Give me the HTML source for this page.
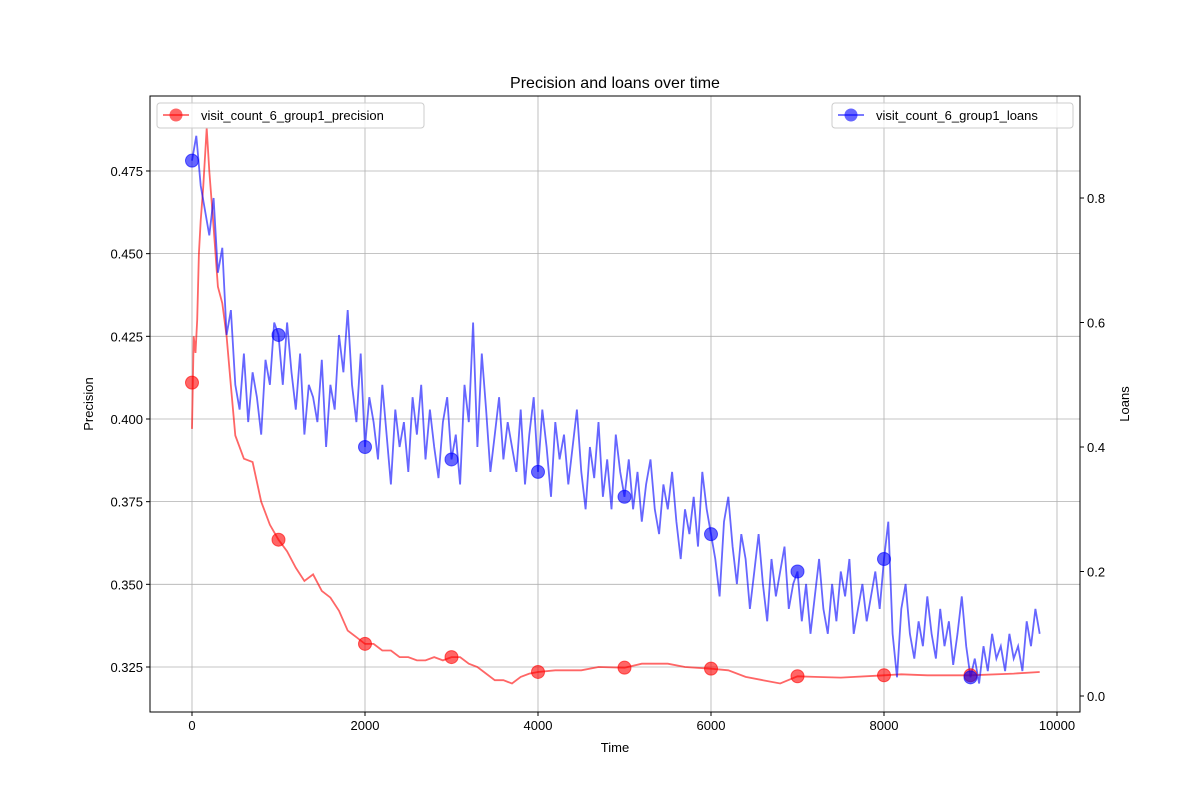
<!DOCTYPE html>
<html><head><meta charset="utf-8"><style>
body{margin:0;background:#fff}
svg text{font-family:"Liberation Sans","DejaVu Sans",sans-serif;font-size:13px;fill:#000}
</style></head><body>
<svg id="chart" width="1200" height="800">
<rect width="1200" height="800" fill="#fff"/>
<g id="grid"></g><g id="marks"></g><g id="axes"></g>
</svg>
<script>
const precTimes=[0,20,40,60,80,100,130,170,200,250,300,350,400,450,500,600,700,800,900,1000,1100,1200,1300,1400,1500,1600,1700,1800,1900,2000,2100,2200,2300,2400,2500,2600,2700,2800,2900,3000,3100,3200,3300,3400,3500,3600,3700,3800,3900,4000,4200,4500,4700,5000,5200,5500,5700,6000,6200,6400,6600,6800,7000,7200,7500,8000,8200,8500,9000,9500,9800];
const precValues=[0.397,0.425,0.42,0.43,0.45,0.46,0.47,0.488,0.475,0.458,0.44,0.435,0.425,0.41,0.395,0.388,0.387,0.375,0.368,0.3635,0.36,0.355,0.351,0.353,0.348,0.346,0.342,0.336,0.334,0.332,0.332,0.330,0.330,0.328,0.328,0.327,0.327,0.328,0.327,0.328,0.328,0.326,0.325,0.323,0.321,0.321,0.320,0.322,0.323,0.3235,0.324,0.324,0.325,0.3248,0.326,0.326,0.325,0.3245,0.324,0.322,0.321,0.320,0.3222,0.322,0.3218,0.3225,0.3228,0.3225,0.3225,0.323,0.3235];
const precMarkerTimes=[0,1000,2000,3000,4000,5000,6000,7000,8000,9000];
const precMarkerValues=[0.411,0.3635,0.332,0.328,0.3235,0.3248,0.3245,0.3222,0.3225,0.3225];
const loansStep=50;
const loans=[0.86,0.90,0.82,0.78,0.74,0.80,0.68,0.72,0.58,0.62,0.50,0.46,0.55,0.44,0.52,0.48,0.42,0.54,0.50,0.60,
0.58,0.50,0.60,0.52,0.46,0.55,0.42,0.50,0.48,0.44,0.54,0.40,0.50,0.46,0.58,0.52,0.62,0.50,0.44,0.55,
0.40,0.48,0.44,0.38,0.50,0.42,0.34,0.46,0.40,0.44,0.36,0.48,0.42,0.50,0.38,0.46,0.40,0.35,0.44,0.48,
0.38,0.42,0.34,0.50,0.44,0.60,0.40,0.55,0.46,0.36,0.42,0.48,0.38,0.44,0.40,0.36,0.46,0.34,0.42,0.48,
0.36,0.46,0.40,0.32,0.44,0.38,0.42,0.34,0.40,0.46,0.36,0.30,0.40,0.35,0.44,0.32,0.38,0.30,0.42,0.36,
0.32,0.38,0.30,0.36,0.28,0.34,0.38,0.30,0.26,0.34,0.30,0.36,0.28,0.22,0.30,0.26,0.32,0.24,0.36,0.30,
0.26,0.22,0.16,0.28,0.32,0.24,0.18,0.26,0.22,0.14,0.20,0.26,0.18,0.12,0.22,0.16,0.20,0.24,0.14,0.18,
0.20,0.12,0.18,0.10,0.16,0.22,0.14,0.10,0.18,0.12,0.20,0.16,0.22,0.10,0.14,0.18,0.12,0.16,0.20,0.14,
0.22,0.28,0.10,0.03,0.14,0.18,0.10,0.06,0.12,0.08,0.16,0.10,0.06,0.14,0.08,0.12,0.05,0.10,0.16,0.08,
0.03,0.06,0.02,0.08,0.04,0.10,0.06,0.08,0.04,0.10,0.06,0.08,0.04,0.12,0.08,0.14,0.10];
const loansMarkerTimes=[0,1000,2000,3000,4000,5000,6000,7000,8000,9000];
const xTicks=[0,2000,4000,6000,8000,10000];
const yTicks=[0.325,0.350,0.375,0.400,0.425,0.450,0.475];
const y2Ticks=[0.0,0.2,0.4,0.6,0.8];

const L=150,R=1080,T=96,B=712;
const x=t=>192+t*0.08650;
const y=v=>667-(v-0.325)*(82.67/0.025);
const y2=v=>696-v*622.5;
const NS='http://www.w3.org/2000/svg';
function mk(tag,attrs,parent,text){const e=document.createElementNS(NS,tag);for(const k in attrs)e.setAttribute(k,attrs[k]);if(text!==undefined)e.textContent=text;parent.appendChild(e);return e;}
const grid=document.getElementById('grid'),marks=document.getElementById('marks'),axes=document.getElementById('axes');
xTicks.forEach(t=>{const g=mk('line',{x1:x(t),x2:x(t),y1:T,y2:B,stroke:'#b0b0b0','stroke-width':0.8},grid);


mk('line',{x1:x(t),x2:x(t),y1:B,y2:B+4,stroke:'#000'},axes);
const tx=mk('text',{x:x(t),y:B+18,'text-anchor':'middle'},axes,String(t));

});
yTicks.forEach(v=>{const g=mk('line',{x1:L,x2:R,y1:y(v),y2:y(v),stroke:'#b0b0b0','stroke-width':0.8},grid);


mk('line',{x1:L-4,x2:L,y1:y(v),y2:y(v),stroke:'#000'},axes);
const tx=mk('text',{x:L-7,y:y(v)+5,'text-anchor':'end'},axes,v.toFixed(3));

});
y2Ticks.forEach(v=>{mk('line',{x1:R,x2:R+4,y1:y2(v),y2:y2(v),stroke:'#000'},axes);
const tx=mk('text',{x:R+7,y:y2(v)+5},axes,v.toFixed(1));

});
mk('rect',{x:L,y:T,width:R-L,height:B-T,fill:'none',stroke:'#000','stroke-width':1},axes);
// precision line
let pd=precTimes.map((t,i)=>(i?'L':'M')+x(t).toFixed(1)+','+y(precValues[i]).toFixed(1)).join('');
const pl=mk('path',{d:pd,fill:'none',stroke:'#ff0000','stroke-opacity':0.6,'stroke-width':1.8},marks);


// loans line
let ld=loans.map((v,i)=>(i?'L':'M')+x(i*loansStep).toFixed(1)+','+y2(v).toFixed(1)).join('');
const ll=mk('path',{d:ld,fill:'none',stroke:'#0000ff','stroke-opacity':0.6,'stroke-width':1.8},marks);


precMarkerTimes.forEach((t,i)=>{const c=mk('circle',{cx:x(t),cy:y(precMarkerValues[i]),r:6.5,fill:'#ff0000','fill-opacity':0.6,stroke:'#ff0000','stroke-opacity':0.6},marks);

});
loansMarkerTimes.forEach(t=>{const c=mk('circle',{cx:x(t),cy:y2(loans[Math.round(t/loansStep)]),r:6.5,fill:'#0000ff','fill-opacity':0.6,stroke:'#0000ff','stroke-opacity':0.6},marks);

});
</script>
<svg style="position:absolute;left:0;top:0" width="1200" height="800">
<text x="615" y="88" text-anchor="middle" style="font-size:16px">Precision and loans over time</text>
<text x="615" y="752" text-anchor="middle">Time</text>
<text transform="translate(93,404) rotate(-90)" text-anchor="middle">Precision</text>
<text transform="translate(1129,404) rotate(-90)" text-anchor="middle">Loans</text>
<g>
<rect x="157" y="103" width="267" height="25" rx="3" fill="#fff" fill-opacity="0.8" stroke="#ccc"/>
<line x1="163" x2="189" y1="115" y2="115" stroke="#ff0000" stroke-opacity="0.6" stroke-width="1.8"/>
<circle cx="176" cy="115" r="6.5" fill="#ff0000" fill-opacity="0.6"/>
<text x="201" y="120">visit_count_6_group1_precision</text>
</g>
<g>
<rect x="832" y="103" width="241" height="25" rx="3" fill="#fff" fill-opacity="0.8" stroke="#ccc"/>
<line x1="838" x2="864" y1="115" y2="115" stroke="#0000ff" stroke-opacity="0.6" stroke-width="1.8"/>
<circle cx="851" cy="115" r="6.5" fill="#0000ff" fill-opacity="0.6"/>
<text x="876" y="120">visit_count_6_group1_loans</text>
</g>
</svg>
</body></html>
